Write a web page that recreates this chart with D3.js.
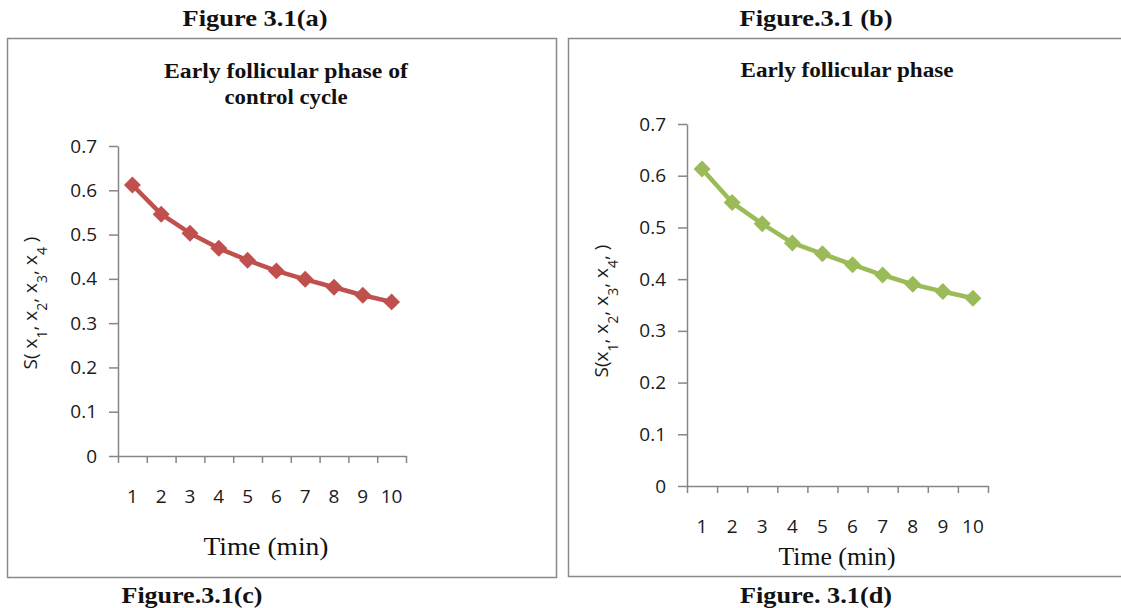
<!DOCTYPE html>
<html>
<head>
<meta charset="utf-8">
<script src="https://cdn.jsdelivr.net/npm/d3@7"></script>
<style>
  body { margin: 0; background: #fff; }
  svg { display: block; }
  .serif { font-family: 'Liberation Serif', 'Times New Roman', serif; font-weight: bold; fill: #111; }
  .tick text { font-family: 'Open Sans', Lato, sans-serif; font-size: 19px; fill: #1a1a1a; }
  .ytitle { font-family: 'Open Sans', Lato, sans-serif; font-size: 19px; fill: #1a1a1a; }
</style>
</head>
<body>
<script>
const minutes = [1, 2, 3, 4, 5, 6, 7, 8, 9, 10];
const controlCycle = [0.612, 0.546, 0.503, 0.469, 0.442, 0.418, 0.399, 0.381, 0.363, 0.348];
const earlyPhase = [0.613, 0.548, 0.507, 0.470, 0.449, 0.428, 0.408, 0.390, 0.376, 0.363];
const yTicks = [0, 0.1, 0.2, 0.3, 0.4, 0.5, 0.6, 0.7];
const xTitle = 'Time (min)';

const width = 1121;
const height = 608;
const axisGrey = '#868686';

const svg = d3.select('body').append('svg')
  .attr('width', width)
  .attr('height', height);

// frames round the two panels
svg.append('rect')
  .attr('x', 7.5).attr('y', 38.5)
  .attr('width', 549).attr('height', 539)
  .attr('fill', 'none').attr('stroke', '#8a8a8a').attr('stroke-width', 1.5);
svg.append('path')
  .attr('d', 'M1121,38.5H568.5V576.5H1121')
  .attr('fill', 'none').attr('stroke', '#8a8a8a').attr('stroke-width', 1.5);

function caption(text, x, y, size, len) {
  svg.append('text')
    .attr('class', 'serif')
    .attr('x', x).attr('y', y)
    .attr('text-anchor', 'middle')
    .style('font-size', `${size}px`)
    .attr('textLength', len)
    .attr('lengthAdjust', 'spacingAndGlyphs')
    .text(text);
}

caption('Figure 3.1(a)', 255, 26, 24, 145);
caption('Figure.3.1 (b)', 816, 26, 24, 153);
caption('Figure.3.1(c)', 192, 603, 24, 141);
caption('Figure. 3.1(d)', 816, 603, 24, 152);

const panels = [
  {
    values: controlCycle,
    color: '#C0504D',
    title: ['Early follicular phase of', 'control cycle'],
    titleX: 286, titleY: [78, 104], titleLen: [244, 123],
    x0: 118, x1: 406, yTop: 146, yBottom: 456,
    xLabelPad: 34, xTitleX: 266, xTitleY: 555, xTitleLen: 125,
    yTitle: [['S( x', '1'], [', x', '2'], [', x', '3'], [', x', '4'], [' )', null]],
    yTitleX: 30, yTitleY: 303
  },
  {
    values: earlyPhase,
    color: '#9BBB59',
    title: ['Early follicular phase'],
    titleX: 847, titleY: [77], titleLen: [213],
    x0: 687, x1: 988, yTop: 124, yBottom: 486,
    xLabelPad: 34, xTitleX: 837, xTitleY: 565, xTitleLen: 117,
    yTitle: [['S(x', '1'], [', x', '2'], [', x', '3'], [', x', '4'], [', )', null]],
    yTitleX: 601, yTitleY: 311
  }
];

panels.forEach(p => {
  const g = svg.append('g');

  p.title.forEach((t, i) => {
    g.append('text')
      .attr('class', 'serif')
      .attr('x', p.titleX).attr('y', p.titleY[i])
      .attr('text-anchor', 'middle')
      .style('font-size', '20px')
      .attr('textLength', p.titleLen[i])
      .attr('lengthAdjust', 'spacingAndGlyphs')
      .text(t);
  });

  const y = d3.scaleLinear([0, 0.7], [p.yBottom, p.yTop]);
  const x = d3.scaleBand(minutes, [p.x0, p.x1]);
  const xEdges = d3.scaleLinear([0, minutes.length], [p.x0, p.x1]);

  const yAxis = g.append('g')
    .attr('transform', `translate(${p.x0},0)`)
    .call(d3.axisLeft(y).tickValues(yTicks).tickFormat(d => d === 0 ? '0' : d3.format('.1f')(d))
      .tickSize(9).tickSizeOuter(0).tickPadding(12));

  const edgeAxis = g.append('g')
    .attr('transform', `translate(0,${p.yBottom})`)
    .call(d3.axisBottom(xEdges).ticks(minutes.length).tickFormat('').tickSize(7).tickSizeOuter(0));

  const labelAxis = g.append('g')
    .attr('transform', `translate(0,${p.yBottom})`)
    .call(d3.axisBottom(x).tickSize(0).tickPadding(p.xLabelPad));
  labelAxis.select('.domain').remove();

  [yAxis, edgeAxis].forEach(a => {
    a.selectAll('.domain, line').attr('stroke', axisGrey).attr('stroke-width', 1.5);
  });

  g.append('text')
    .attr('class', 'serif')
    .attr('x', p.xTitleX).attr('y', p.xTitleY)
    .attr('text-anchor', 'middle')
    .style('font-size', '25px')
    .style('font-weight', 'normal')
    .attr('textLength', p.xTitleLen)
    .attr('lengthAdjust', 'spacingAndGlyphs')
    .text(xTitle);

  const yt = g.append('text')
    .attr('class', 'ytitle')
    .attr('transform', `translate(${p.yTitleX},${p.yTitleY}) rotate(-90)`)
    .attr('text-anchor', 'middle')
    .attr('dy', '0.35em');
  p.yTitle.forEach(([base, sub]) => {
    yt.append('tspan').text(base);
    if (sub) {
      yt.append('tspan').attr('baseline-shift', 'sub').style('font-size', '14px').text(sub);
    }
  });

  const pts = minutes.map((m, i) => [x(m) + x.bandwidth() / 2, y(p.values[i])]);

  g.append('path')
    .attr('d', d3.line()(pts))
    .attr('fill', 'none')
    .attr('stroke', p.color)
    .attr('stroke-width', 4.5)
    .attr('stroke-linejoin', 'round');

  g.selectAll('.marker')
    .data(pts)
    .join('path')
    .attr('class', 'marker')
    .attr('transform', d => `translate(${d[0]},${d[1]}) rotate(45)`)
    .attr('d', 'M-6,-6H6V6H-6Z')
    .attr('fill', p.color);
});
</script>
</body>
</html>
